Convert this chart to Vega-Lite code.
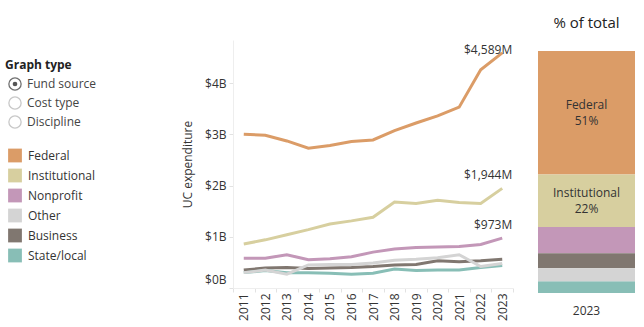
{
  "$schema": "https://vega.github.io/schema/vega-lite/v6.json",
  "padding": {"left": 5, "top": 16, "right": 5, "bottom": 5},
  "config": {
    "font": "Open Sans",
    "view": {"stroke": null},
    "locale": {"number": {"decimal": ".", "thousands": ",", "grouping": [3], "currency": ["$", "M"]}},
    "text": {"font": "Open Sans", "fontSize": 12, "color": "#333333"},
    "axis": {"labelFont": "Open Sans", "titleFont": "Open Sans", "labelFontSize": 12, "labelColor": "#333333", "titleColor": "#333333", "titleFontWeight": "normal", "titleFontSize": 12, "grid": false}
  },
  "datasets": {
    "spend": [
      {"year": "2011", "source": "Federal", "value": 3000},
      {"year": "2012", "source": "Federal", "value": 2980},
      {"year": "2013", "source": "Federal", "value": 2870},
      {"year": "2014", "source": "Federal", "value": 2730},
      {"year": "2015", "source": "Federal", "value": 2780},
      {"year": "2016", "source": "Federal", "value": 2860},
      {"year": "2017", "source": "Federal", "value": 2890},
      {"year": "2018", "source": "Federal", "value": 3070},
      {"year": "2019", "source": "Federal", "value": 3220},
      {"year": "2020", "source": "Federal", "value": 3360},
      {"year": "2021", "source": "Federal", "value": 3530},
      {"year": "2022", "source": "Federal", "value": 4260},
      {"year": "2023", "source": "Federal", "value": 4589},
      {"year": "2011", "source": "Institutional", "value": 860},
      {"year": "2012", "source": "Institutional", "value": 940},
      {"year": "2013", "source": "Institutional", "value": 1040},
      {"year": "2014", "source": "Institutional", "value": 1140},
      {"year": "2015", "source": "Institutional", "value": 1250},
      {"year": "2016", "source": "Institutional", "value": 1310},
      {"year": "2017", "source": "Institutional", "value": 1380},
      {"year": "2018", "source": "Institutional", "value": 1680},
      {"year": "2019", "source": "Institutional", "value": 1650},
      {"year": "2020", "source": "Institutional", "value": 1710},
      {"year": "2021", "source": "Institutional", "value": 1670},
      {"year": "2022", "source": "Institutional", "value": 1650},
      {"year": "2023", "source": "Institutional", "value": 1944},
      {"year": "2011", "source": "Nonprofit", "value": 580},
      {"year": "2012", "source": "Nonprofit", "value": 580},
      {"year": "2013", "source": "Nonprofit", "value": 650},
      {"year": "2014", "source": "Nonprofit", "value": 550},
      {"year": "2015", "source": "Nonprofit", "value": 570},
      {"year": "2016", "source": "Nonprofit", "value": 610},
      {"year": "2017", "source": "Nonprofit", "value": 700},
      {"year": "2018", "source": "Nonprofit", "value": 760},
      {"year": "2019", "source": "Nonprofit", "value": 790},
      {"year": "2020", "source": "Nonprofit", "value": 800},
      {"year": "2021", "source": "Nonprofit", "value": 810},
      {"year": "2022", "source": "Nonprofit", "value": 850},
      {"year": "2023", "source": "Nonprofit", "value": 973},
      {"year": "2011", "source": "Business", "value": 350},
      {"year": "2012", "source": "Business", "value": 390},
      {"year": "2013", "source": "Business", "value": 400},
      {"year": "2014", "source": "Business", "value": 380},
      {"year": "2015", "source": "Business", "value": 390},
      {"year": "2016", "source": "Business", "value": 400},
      {"year": "2017", "source": "Business", "value": 420},
      {"year": "2018", "source": "Business", "value": 450},
      {"year": "2019", "source": "Business", "value": 460},
      {"year": "2020", "source": "Business", "value": 530},
      {"year": "2021", "source": "Business", "value": 510},
      {"year": "2022", "source": "Business", "value": 530},
      {"year": "2023", "source": "Business", "value": 560},
      {"year": "2011", "source": "State/local", "value": 300},
      {"year": "2012", "source": "State/local", "value": 340},
      {"year": "2013", "source": "State/local", "value": 300},
      {"year": "2014", "source": "State/local", "value": 300},
      {"year": "2015", "source": "State/local", "value": 290},
      {"year": "2016", "source": "State/local", "value": 270},
      {"year": "2017", "source": "State/local", "value": 290},
      {"year": "2018", "source": "State/local", "value": 370},
      {"year": "2019", "source": "State/local", "value": 340},
      {"year": "2020", "source": "State/local", "value": 350},
      {"year": "2021", "source": "State/local", "value": 350},
      {"year": "2022", "source": "State/local", "value": 400},
      {"year": "2023", "source": "State/local", "value": 440},
      {"year": "2011", "source": "Other", "value": 300},
      {"year": "2012", "source": "Other", "value": 350},
      {"year": "2013", "source": "Other", "value": 270},
      {"year": "2014", "source": "Other", "value": 450},
      {"year": "2015", "source": "Other", "value": 460},
      {"year": "2016", "source": "Other", "value": 460},
      {"year": "2017", "source": "Other", "value": 490},
      {"year": "2018", "source": "Other", "value": 540},
      {"year": "2019", "source": "Other", "value": 560},
      {"year": "2020", "source": "Other", "value": 590},
      {"year": "2021", "source": "Other", "value": 650},
      {"year": "2022", "source": "Other", "value": 420},
      {"year": "2023", "source": "Other", "value": 480}
    ],
    "controls": [
      {"item": "Graph type", "kind": "title", "selected": false},
      {"item": "Fund source", "kind": "option", "selected": true},
      {"item": "Cost type", "kind": "option", "selected": false},
      {"item": "Discipline", "kind": "option", "selected": false}
    ],
    "legendItems": [
      {"source": "Federal"},
      {"source": "Institutional"},
      {"source": "Nonprofit"},
      {"source": "Other"},
      {"source": "Business"},
      {"source": "State/local"}
    ]
  },
  "spacing": 24,
  "hconcat": [
    {
      "spacing": 13.5,
      "vconcat": [
        {
          "width": 142,
          "height": 91.5,
          "data": {"name": "controls"},
          "encoding": {
            "y": {"field": "item", "type": "nominal", "scale": {"type": "band", "domain": ["Graph type", "Fund source", "Cost type", "Discipline"], "paddingInner": 0, "paddingOuter": 0.408, "align": 1}, "axis": null},
            "x": {"datum": 0, "type": "quantitative", "scale": {"domain": [0, 1]}, "axis": null}
          },
          "layer": [
            {
              "transform": [{"filter": "datum.kind == 'title'"}],
              "mark": {"type": "text", "align": "left", "baseline": "middle", "dx": -10, "fontWeight": "bold", "fontSize": 12, "color": "#222222"},
              "encoding": {"text": {"field": "item"}}
            },
            {
              "transform": [{"filter": "datum.kind == 'option'"}],
              "mark": {"type": "point", "shape": "circle", "filled": true, "size": 150, "color": "white", "strokeWidth": 1.3, "opacity": 1},
              "encoding": {"stroke": {"condition": {"test": "datum.selected", "value": "#707070"}, "value": "#c8c8c8"}}
            },
            {
              "transform": [{"filter": "datum.selected"}],
              "mark": {"type": "point", "shape": "circle", "filled": true, "size": 22, "color": "#555555", "opacity": 1}
            },
            {
              "transform": [{"filter": "datum.kind == 'option'"}],
              "mark": {"type": "text", "align": "left", "baseline": "middle", "dx": 12, "fontSize": 12, "color": "#444444"},
              "encoding": {"text": {"field": "item"}}
            }
          ]
        },
        {
          "width": 142,
          "height": 120,
          "data": {"name": "legendItems"},
          "encoding": {
            "y": {"field": "source", "type": "nominal", "scale": {"type": "band", "domain": ["Federal", "Institutional", "Nonprofit", "Other", "Business", "State/local"], "paddingInner": 0, "paddingOuter": 0}, "axis": null},
            "x": {"datum": 0, "type": "quantitative", "scale": {"domain": [0, 1]}, "axis": null}
          },
          "layer": [
            {
              "mark": {"type": "point", "shape": "square", "filled": true, "size": 190, "opacity": 1},
              "encoding": {"color": {"field": "source", "type": "nominal", "legend": null, "scale": {"domain": ["Federal", "Institutional", "Nonprofit", "Other", "Business", "State/local"], "range": ["#DB9C67", "#D7CF9F", "#C397B8", "#D4D4D4", "#807770", "#88BEB6"]}}}
            },
            {
              "mark": {"type": "text", "align": "left", "baseline": "middle", "dx": 13, "fontSize": 12, "color": "#333333"},
              "encoding": {"text": {"field": "source"}}
            }
          ]
        }
      ]
    },
    {
      "width": 280,
      "height": 248,
      "data": {"name": "spend"},
      "encoding": {
        "x": {"field": "year", "type": "ordinal", "scale": {"type": "band", "paddingInner": 0, "paddingOuter": 0},
              "axis": {"title": null, "labelAngle": -90, "tickBand": "extent", "tickSize": 4, "tickColor": "#e2e2e2", "domainColor": "#eeeeee", "labelPadding": 1}},
        "y": {"field": "value", "type": "quantitative", "scale": {"domain": [0, 4840], "nice": false},
              "axis": {"title": "UC expenditure", "values": [0, 1000, 2000, 3000, 4000], "labelExpr": "'$' + (datum.value / 1000) + 'B'", "tickSize": 4, "tickColor": "#e2e2e2", "domainColor": "#eeeeee", "labelPadding": 3, "titlePadding": 10, "labelOffset": {"condition": {"test": "datum.value == 0", "value": -9}, "value": 0}}},
        "color": {"field": "source", "type": "nominal", "legend": null, "scale": {"domain": ["Federal", "Institutional", "Nonprofit", "Other", "Business", "State/local"], "range": ["#DB9C67", "#D7CF9F", "#C397B8", "#D4D4D4", "#807770", "#88BEB6"]}}
      },
      "layer": [
        {"mark": {"type": "line", "strokeWidth": 3}},
        {
          "transform": [{"filter": "datum.year == '2023' && datum.source == 'Federal'"}],
          "mark": {"type": "text", "align": "right", "baseline": "middle", "dx": 10, "dy": -3, "fontSize": 12, "color": "#333333"},
          "encoding": {"text": {"field": "value", "type": "quantitative", "format": "$,.0f"}, "color": {"value": "#333333"}}
        },
        {
          "transform": [{"filter": "datum.year == '2023' && (datum.source == 'Institutional' || datum.source == 'Nonprofit')"}],
          "mark": {"type": "text", "align": "right", "baseline": "middle", "dx": 10, "dy": -13, "fontSize": 12, "color": "#333333"},
          "encoding": {"text": {"field": "value", "type": "quantitative", "format": "$,.0f"}, "color": {"value": "#333333"}}
        }
      ]
    },
    {
      "width": 97,
      "height": 253,
      "title": {"text": "% of total", "fontSize": 15, "fontWeight": "normal", "color": "#222222", "offset": 9, "font": "Open Sans"},
      "data": {"name": "spend"},
      "transform": [
        {"filter": "datum.year == '2023'"},
        {"stack": "value", "groupby": ["year"], "offset": "normalize", "sort": [{"field": "value", "order": "ascending"}], "as": ["v0", "v1"]},
        {"calculate": "(datum.v0 + datum.v1) / 2", "as": "mid"},
        {"calculate": "format(datum.v1 - datum.v0, '.0%')", "as": "pct"}
      ],
      "encoding": {
        "x": {"field": "year", "type": "ordinal", "scale": {"type": "band", "paddingInner": 0, "paddingOuter": 0},
              "axis": {"title": null, "labelAngle": 0, "ticks": false, "domain": false, "labelPadding": 12}}
      },
      "layer": [
        {
          "mark": {"type": "bar"},
          "encoding": {
            "y": {"field": "v1", "type": "quantitative", "scale": {"domain": [0, 1.0455], "nice": false}, "axis": null},
            "y2": {"field": "v0"},
            "color": {"field": "source", "type": "nominal", "legend": null, "scale": {"domain": ["Federal", "Institutional", "Nonprofit", "Other", "Business", "State/local"], "range": ["#DB9C67", "#D7CF9F", "#C397B8", "#D4D4D4", "#807770", "#88BEB6"]}}
          }
        },
        {
          "transform": [{"filter": "datum.source == 'Federal' || datum.source == 'Institutional'"}],
          "mark": {"type": "text", "baseline": "middle", "dy": -8, "fontSize": 12, "color": "#333333"},
          "encoding": {"y": {"field": "mid", "type": "quantitative"}, "text": {"field": "source"}}
        },
        {
          "transform": [{"filter": "datum.source == 'Federal' || datum.source == 'Institutional'"}],
          "mark": {"type": "text", "baseline": "middle", "dy": 8, "fontSize": 12, "color": "#333333"},
          "encoding": {"y": {"field": "mid", "type": "quantitative"}, "text": {"field": "pct"}}
        }
      ]
    }
  ]
}
